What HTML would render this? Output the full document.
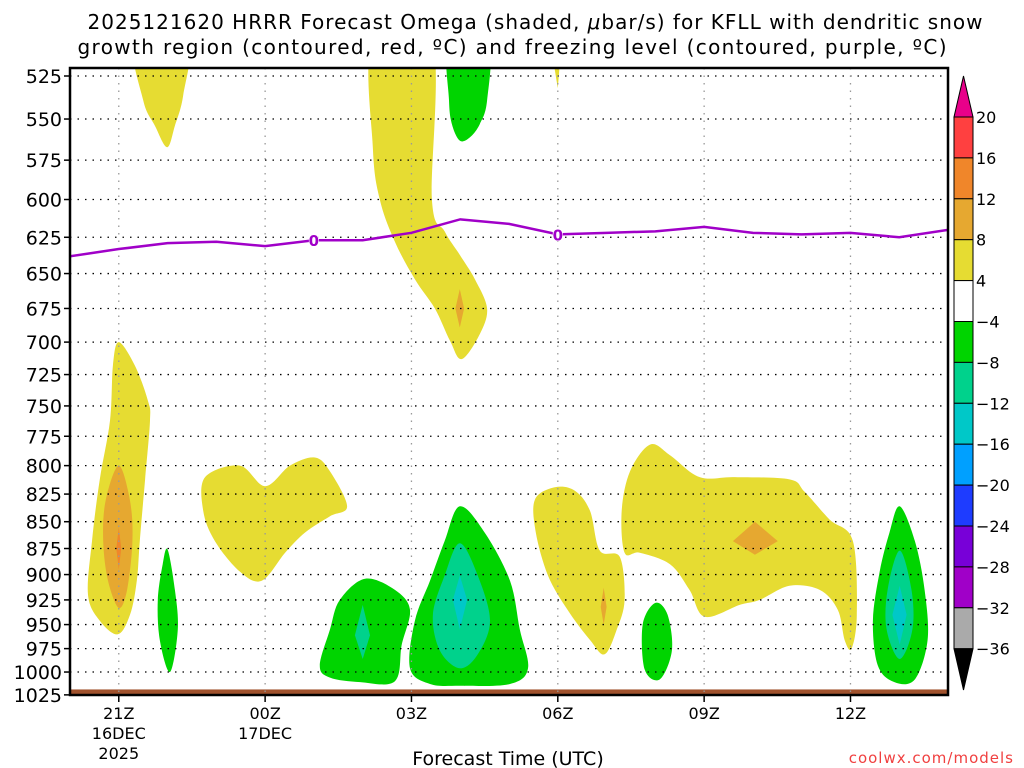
<!DOCTYPE html>
<html><head><meta charset="utf-8"><style>
body{margin:0;background:#fff;width:1024px;height:768px;overflow:hidden}
svg{display:block;font-family:"DejaVu Sans","Liberation Sans",sans-serif}
</style></head><body>
<svg id="chart" width="1024" height="768">
<text x="535" y="29" font-size="20" text-anchor="middle" textLength="895" lengthAdjust="spacing">2025121620 HRRR Forecast Omega (shaded, <tspan font-style="italic">μ</tspan>bar/s) for KFLL with dendritic snow</text>
<text x="512" y="54" font-size="20" text-anchor="middle" textLength="869" lengthAdjust="spacing">growth region (contoured, red, ºC) and freezing level (contoured, purple, ºC)</text>
<defs><clipPath id="pc"><rect x="70" y="68" width="878" height="627"/></clipPath></defs>
<g id="shapes" clip-path="url(#pc)"></g>
<g id="grid"></g>
<g id="frz" clip-path="url(#pc)"></g>
<rect x="70" y="68" width="878" height="627" fill="none" stroke="#000" stroke-width="2.5"/>
<g id="axes"></g>
<g id="cbar"></g>
<text x="508" y="765" font-size="19" text-anchor="middle">Forecast Time (UTC)</text>
<text x="1014" y="763" font-size="15" fill="#f04040" text-anchor="end" letter-spacing="1">coolwx.com/models</text>
</svg>
<script>
const pTicks=[525,550,575,600,625,650,675,700,725,750,775,800,825,850,875,900,925,950,975,1000,1025];
const xTickHours=[21,24,27,30,33,36];
const xTickLabels=[["21Z","16DEC","2025"],["00Z","17DEC"],["03Z"],["06Z"],["09Z"],["12Z"]];
const cbLevels=["20","16","12","8","4","−4","−8","−12","−16","−20","−24","−28","−32","−36"];
const cbColors=["#ff4040","#f0862a","#e6a830","#e6dc32","#ffffff","#00d400","#00d28c","#00c8c8","#00a0ff","#1e3cff","#7800d8","#a000c8","#aaaaaa"];
const frzHours=[20,21,22,23,24,25,26,27,28,29,30,31,32,33,34,35,36,37,38];
const frzP=[638,633,629,628,631,627,627,622,613,616,623,622,621,618,622,623,622,625,620];
const frzLabels=[[25,"0"],[30,"0"]];
// contour polygons: [color, [[hour,pressure],...]]
const polys=[
["#e6dc32",[[21.33,505],[22.4,505],[22.32,536],[22.15,554],[21.99,567],[21.74,554],[21.5,539]]],
["#e6dc32",[[26.21,505],[27.42,505],[27.42,600],[27.68,621],[27.99,637],[28.3,654],[28.55,675],[28.4,694],[28.03,713],[27.79,699],[27.48,675],[27.07,654],[26.66,628],[26.35,600],[26.21,568]]],
["#e6a830",[[27.99,661],[28.08,675],[27.99,689],[27.9,675]]],
["#e6dc32",[[29.9,515],[30.05,515],[30,532]]],
["#00d400",[[27.77,505],[28.57,505],[28.55,539],[28.4,553],[28.2,561],[27.99,563],[27.83,553],[27.77,539]]],
["#e6dc32",[[21,700],[21.33,718],[21.6,746],[21.64,762],[21.54,812],[21.43,868],[21.37,906],[21.23,940],[20.98,960],[20.61,946],[20.37,920],[20.45,868],[20.61,812],[20.82,762],[20.88,718]]],
["#e6a830",[[21,800],[21.23,831],[21.28,868],[21.17,915],[21,933],[20.78,906],[20.68,868],[20.73,831]]],
["#f0862a",[[21,855],[21.05,875],[21,895],[20.95,875]]],
["#e6dc32",[[22.77,810],[23.48,800],[24,818],[24.51,800],[25.02,793],[25.33,805],[25.68,836],[25.33,845],[24.82,860],[24.41,879],[23.93,906],[23.48,897],[22.97,868],[22.73,840]]],
["#00d400",[[22,876],[22.15,915],[22.21,955],[22.05,1000],[21.84,966],[21.8,925],[21.9,890]]],
["#00d400",[[25.12,993],[25.33,955],[25.53,925],[26.05,904],[26.66,915],[26.97,935],[26.8,971],[26.66,1010],[25.95,1011],[25.33,1006]]],
["#00d28c",[[26,930],[26.15,961],[26,986],[25.84,961]]],
["#00d400",[[27.99,836],[28.5,860],[29.02,906],[29.22,955],[29.39,996],[29.02,1013],[27.99,1015],[27.38,1013],[26.97,996],[27.07,946],[27.38,906],[27.68,868]]],
["#00d28c",[[27.99,870],[28.36,901],[28.61,946],[28.36,981],[27.99,996],[27.58,977],[27.44,940],[27.68,901]]],
["#00c8c8",[[27.99,901],[28.14,925],[27.99,955],[27.85,925]]],
["#e6dc32",[[29.53,830],[29.94,819],[30.35,822],[30.66,840],[30.86,877],[31.27,883],[31.37,925],[31.21,955],[30.96,981],[30.66,966],[30.2,935],[29.8,901],[29.55,860]]],
["#e6a830",[[30.94,913],[31.0,932],[30.94,950],[30.88,932]]],
["#00d400",[[32,928],[32.25,940],[32.34,977],[32.09,1008],[31.78,997],[31.74,950]]],
["#e6dc32",[[31.48,805],[31.89,782],[32.3,791],[32.91,810],[33.63,810],[34.75,812],[35.06,823],[35.57,848],[36.05,868],[36.13,940],[36.02,975],[35.88,966],[35.74,935],[35.37,915],[34.75,911],[34.14,925],[33.73,930],[33.01,942],[32.7,915],[32.3,890],[31.68,879],[31.37,879],[31.31,840]]],
["#e6a830",[[34.04,850],[34.51,868],[34.04,881],[33.59,868]]],
["#00d400",[[37.01,836],[37.32,868],[37.52,915],[37.58,966],[37.32,1008],[36.9,1011],[36.56,993],[36.46,946],[36.6,897],[36.8,860]]],
["#00d28c",[[37.01,877],[37.25,915],[37.27,955],[37.01,986],[36.74,955],[36.76,915]]],
["#00c8c8",[[37.01,911],[37.15,940],[37.01,971],[36.86,940]]]
];
const NS="http://www.w3.org/2000/svg";
const X=h=>70+(h-20)*48.78;
const Y=p=>76+925*Math.log(p/525);
function mk(tag,attrs,parent){const e=document.createElementNS(NS,tag);for(const k in attrs)e.setAttribute(k,attrs[k]);parent.appendChild(e);return e;}
function smoothClosed(pts){
 if(pts.length<5) return "M"+pts.map(p=>p[0].toFixed(1)+","+p[1].toFixed(1)).join("L")+"Z";
 const n=pts.length;let d="M"+pts[0][0].toFixed(1)+","+pts[0][1].toFixed(1);
 for(let i=0;i<n;i++){
  const p0=pts[(i-1+n)%n],p1=pts[i],p2=pts[(i+1)%n],p3=pts[(i+2)%n];
  const c1=[p1[0]+(p2[0]-p0[0])/6,p1[1]+(p2[1]-p0[1])/6];
  const c2=[p2[0]-(p3[0]-p1[0])/6,p2[1]-(p3[1]-p1[1])/6];
  d+="C"+c1[0].toFixed(1)+","+c1[1].toFixed(1)+" "+c2[0].toFixed(1)+","+c2[1].toFixed(1)+" "+p2[0].toFixed(1)+","+p2[1].toFixed(1);
 }
 return d+"Z";
}
const gS=document.getElementById('shapes');
polys.forEach((pl,i)=>{
 const d=smoothClosed(pl[1].map(q=>[X(q[0]),Y(q[1])]));
 const e=mk('path',{d:d,fill:pl[0]},gS);
 
 
});
const ground=mk('rect',{x:70,y:Y(1019),width:878,height:695-Y(1019),fill:'#a0522d'},gS);


const gG=document.getElementById('grid'),gA=document.getElementById('axes');
pTicks.forEach(p=>{
 const y=Y(p);
 if(p<1025){const l=mk('line',{x1:70,x2:948,y1:y,y2:y,stroke:'#000','stroke-width':1.3,'stroke-dasharray':'1.5,6'},gG);
 
 }
 mk('line',{x1:64,x2:70,y1:y,y2:y,stroke:'#000','stroke-width':1.5},gA);
 const t=mk('text',{x:62,y:y+7,'font-size':19,'text-anchor':'end'},gA);t.textContent=p;
 
 
});
xTickHours.forEach((h,i)=>{
 const x=X(h);
 const l=mk('line',{x1:x,x2:x,y1:68,y2:695,stroke:'#999','stroke-width':1.3,'stroke-dasharray':'1.5,6'},gG);
 
 
 mk('line',{x1:x,x2:x,y1:695,y2:702,stroke:'#000','stroke-width':1.5},gA);
 xTickLabels[i].forEach((s,j)=>{const t=mk('text',{x:x,y:719+j*20,'font-size':16,'text-anchor':'middle'},gA);t.textContent=s;
 
 });
});
const gF=document.getElementById('frz');
const fl=mk('polyline',{points:frzHours.map((h,i)=>X(h)+","+Y(frzP[i])).join(" "),fill:'none',stroke:'#a000c8','stroke-width':2.5},gF);


frzLabels.forEach(f=>{
 const i=frzHours.indexOf(f[0]);const x=X(f[0]),y=Y(frzP[i]);
 mk('rect',{x:x-5,y:y-7,width:10,height:14,fill:'#fff'},gF);
 const t=mk('text',{x:x,y:y+6,'font-size':15,'font-weight':'bold',fill:'#a000c8','text-anchor':'middle'},gF);t.textContent=f[1];
 
 
});
const gC=document.getElementById('cbar');
const cbX=954,cbW=19,cbTop=117,cbStep=40.9;
const tip1=mk('polygon',{points:`${cbX},${cbTop} ${cbX+cbW},${cbTop} ${cbX+cbW/2},76`,fill:'#e8008a',stroke:'#000','stroke-width':1},gC);


cbColors.forEach((c,i)=>{const r=mk('rect',{x:cbX,y:cbTop+i*cbStep,width:cbW,height:cbStep,fill:c,stroke:'#000','stroke-width':1},gC);
 
 });
const cbBot=cbTop+cbColors.length*cbStep;
const tip2=mk('polygon',{points:`${cbX},${cbBot} ${cbX+cbW},${cbBot} ${cbX+cbW/2},690`,fill:'#000',stroke:'#000','stroke-width':1},gC);


cbLevels.forEach((s,i)=>{const t=mk('text',{x:976,y:cbTop+i*cbStep+6,'font-size':16},gC);t.textContent=s;
 
 });
</script>
</body></html>
